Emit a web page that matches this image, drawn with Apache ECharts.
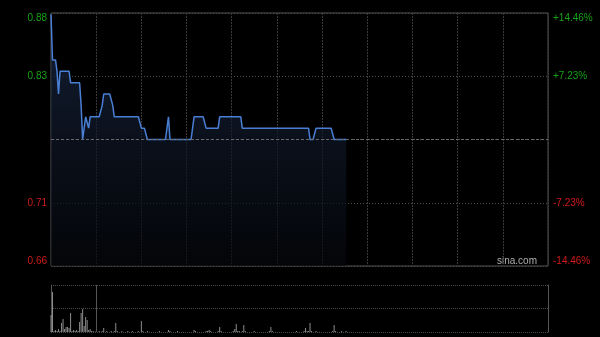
<!DOCTYPE html>
<html>
<head>
<meta charset="utf-8">
<script src="https://cdn.jsdelivr.net/npm/echarts@6/dist/echarts.min.js"></script>
<style>
html,body{margin:0;padding:0;background:#000;}
#c{width:600px;height:337px;}
</style>
</head>
<body>
<div id="c"></div>
<script>
// previous close and axis limit (percent)
var prevClose = 0.77;
var limitPct = 14.46;
var stepPct = 7.23;
var sessionMinutes = 330;
var gridMinutes = 30;

// tick labels (bottom to top)
var priceLabels = ['0.66', '0.71', '', '0.83', '0.88'];
var pctLabels = ['-14.46%', '-7.23%', '', '+7.23%', '+14.46%'];

// price per minute from 09:30
var prices = [
  0.88,0.84,0.84,0.84,0.83,0.81,0.83,0.83,0.83,0.83,
  0.83,0.83,0.83,0.82,0.82,0.82,0.82,0.82,0.82,0.82,
  0.80,0.77,0.78,0.79,0.785,0.78,0.79,0.79,0.79,0.79,
  0.79,0.79,0.79,0.79,0.80,0.81,0.81,0.81,0.81,0.81,
  0.81,0.80,0.79,0.79,0.79,0.79,0.79,0.79,0.79,0.79,
  0.79,0.79,0.79,0.79,0.79,0.79,0.79,0.79,0.79,0.79,
  0.78,0.78,0.78,0.78,0.77,0.77,0.77,0.77,0.77,0.77,
  0.77,0.77,0.77,0.77,0.77,0.77,0.77,0.77,0.79,0.77,
  0.77,0.77,0.77,0.77,0.77,0.77,0.77,0.77,0.77,0.77,
  0.77,0.77,0.77,0.77,0.77,0.79,0.79,0.79,0.79,0.79,
  0.79,0.79,0.79,0.78,0.78,0.78,0.78,0.78,0.78,0.78,
  0.78,0.78,0.79,0.79,0.79,0.79,0.79,0.79,0.79,0.79,
  0.79,0.79,0.79,0.79,0.79,0.79,0.79,0.78,0.78,0.78,
  0.78,0.78,0.78,0.78,0.78,0.78,0.78,0.78,0.78,0.78,
  0.78,0.78,0.78,0.78,0.78,0.78,0.78,0.78,0.78,0.78,
  0.78,0.78,0.78,0.78,0.78,0.78,0.78,0.78,0.78,0.78,
  0.78,0.78,0.78,0.78,0.78,0.78,0.78,0.78,0.78,0.78,
  0.78,0.78,0.77,0.77,0.77,0.77,0.78,0.78,0.78,0.78,
  0.78,0.78,0.78,0.78,0.78,0.78,0.78,0.78,0.77,0.77,
  0.77,0.77,0.77,0.77,0.77,0.77,0.77
];

// volume per minute (relative units)
var volumes = [
  17,40,1,2,1,3,1,9,13,3,
  5,5,4,19,1,2,1,2,1,10,
  19,23,6,15,12,2,3,1,1,0,
  1,0,1,0,1,4,0,1,0,0,
  1,0,1,9,1,0,0,1,0,0,
  0,1,0,0,1,0,0,0,1,0,
  11,1,0,0,1,0,0,0,0,0,
  0,0,1,0,0,0,0,0,2,1,
  0,0,0,0,1,0,0,0,0,0,
  0,0,0,0,0,2,1,0,0,0,
  0,0,0,1,1,2,1,0,0,0,
  0,1,5,1,0,0,0,0,0,0,
  0,1,3,8,1,1,0,1,7,1,
  0,0,0,0,0,1,0,0,0,0,
  0,0,0,0,0,1,5,1,0,0,
  0,0,0,0,0,0,0,0,0,0,
  0,0,0,1,0,0,0,0,1,4,
  1,1,9,1,0,0,1,0,0,0,
  0,0,0,0,0,0,0,1,7,1,
  0,0,0,1,0,0,1
];
var volumeMax = 47;

var GREEN = '#17a317';
var RED = '#d21a1a';

var priceData = prices.map(function (p, i) { return [i, (p / prevClose - 1) * 100]; });
var volData = volumes.map(function (v, i) { return [i, v]; });

var chart = echarts.init(document.getElementById('c'), null, {renderer: 'canvas'});
var labelFont = {fontFamily: 'Liberation Sans, Arial, sans-serif', fontSize: 10};

chart.setOption({
  backgroundColor: '#000',
  animation: false,
  grid: [
    {left: 51, top: 13, width: 497, height: 253, show: true, borderColor: '#555', borderWidth: 1, backgroundColor: 'transparent'},
    {left: 51, top: 285, width: 497, height: 47, show: false}
  ],
  xAxis: [
    {type: 'value', gridIndex: 0, min: 0, max: sessionMinutes, interval: gridMinutes,
     axisLine: {show: false}, axisTick: {show: false}, axisLabel: {show: false},
     splitLine: {show: true, lineStyle: {color: '#3a3a3a', type: [2, 1], width: 1}}},
    {type: 'value', gridIndex: 1, min: 0, max: sessionMinutes, interval: gridMinutes,
     axisLine: {show: false}, axisTick: {show: false}, axisLabel: {show: false},
     splitLine: {show: false}}
  ],
  yAxis: [
    {type: 'value', gridIndex: 0, position: 'left', min: -limitPct, max: limitPct, interval: stepPct,
     axisLine: {show: false}, axisTick: {show: false},
     axisLabel: Object.assign({show: true, margin: 4,
       verticalAlignMaxLabel: 'top', verticalAlignMinLabel: 'bottom',
       formatter: function (v, i) { return priceLabels[i] || ''; },
       color: function (v) { return v > 0 ? GREEN : RED; }}, labelFont),
     splitLine: {show: true, lineStyle: {color: '#4a4a4a', type: [1, 2], width: 1}}},
    {type: 'value', gridIndex: 0, position: 'right', min: -limitPct, max: limitPct, interval: stepPct,
     axisLine: {show: false}, axisTick: {show: false},
     axisLabel: Object.assign({show: true, margin: 5,
       verticalAlignMaxLabel: 'top', verticalAlignMinLabel: 'bottom',
       formatter: function (v, i) { return pctLabels[i] || ''; },
       color: function (v) { return v > 0 ? GREEN : RED; }}, labelFont),
     splitLine: {show: false}},
    {type: 'value', gridIndex: 1, position: 'left', min: 0, max: volumeMax, interval: volumeMax / 2,
     axisLine: {show: true, lineStyle: {color: '#555', width: 1}}, axisTick: {show: false}, axisLabel: {show: false},
     splitLine: {show: true, lineStyle: {color: '#4a4a4a', type: [1, 1], width: 1}}},
    {type: 'value', gridIndex: 1, position: 'right', min: 0, max: volumeMax, interval: volumeMax / 2,
     axisLine: {show: true, lineStyle: {color: '#555', width: 1}}, axisTick: {show: false}, axisLabel: {show: false},
     splitLine: {show: false}}
  ],
  series: [
    {type: 'line', xAxisIndex: 0, yAxisIndex: 0, data: priceData, showSymbol: false, smooth: false,
     lineStyle: {color: '#4a7fd6', width: 1.5},
     areaStyle: {origin: 'start', color: new echarts.graphic.LinearGradient(0, 0, 0, 1, [
       {offset: 0, color: '#1c2c4a'}, {offset: 0.5, color: '#0f1727'}, {offset: 1, color: '#05070b'}])},
     markLine: {symbol: 'none', silent: true, label: {show: false},
       lineStyle: {color: '#6a6a6a', type: [3, 2], width: 1},
       data: [{yAxis: 0}]}},
    {type: 'bar', xAxisIndex: 1, yAxisIndex: 2, data: volData, barWidth: 1,
     itemStyle: {color: '#8c8c8c'},
     markLine: {symbol: 'none', silent: true, label: {show: false},
       lineStyle: {color: '#555', type: 'solid', width: 1},
       data: [{xAxis: gridMinutes}]}}
  ],
  graphic: [
    {type: 'text', right: 63, top: 256, style: {text: 'sina.com', fill: '#b0b0b0', font: '10px Liberation Sans, Arial, sans-serif'}}
  ]
});
</script>
</body>
</html>
